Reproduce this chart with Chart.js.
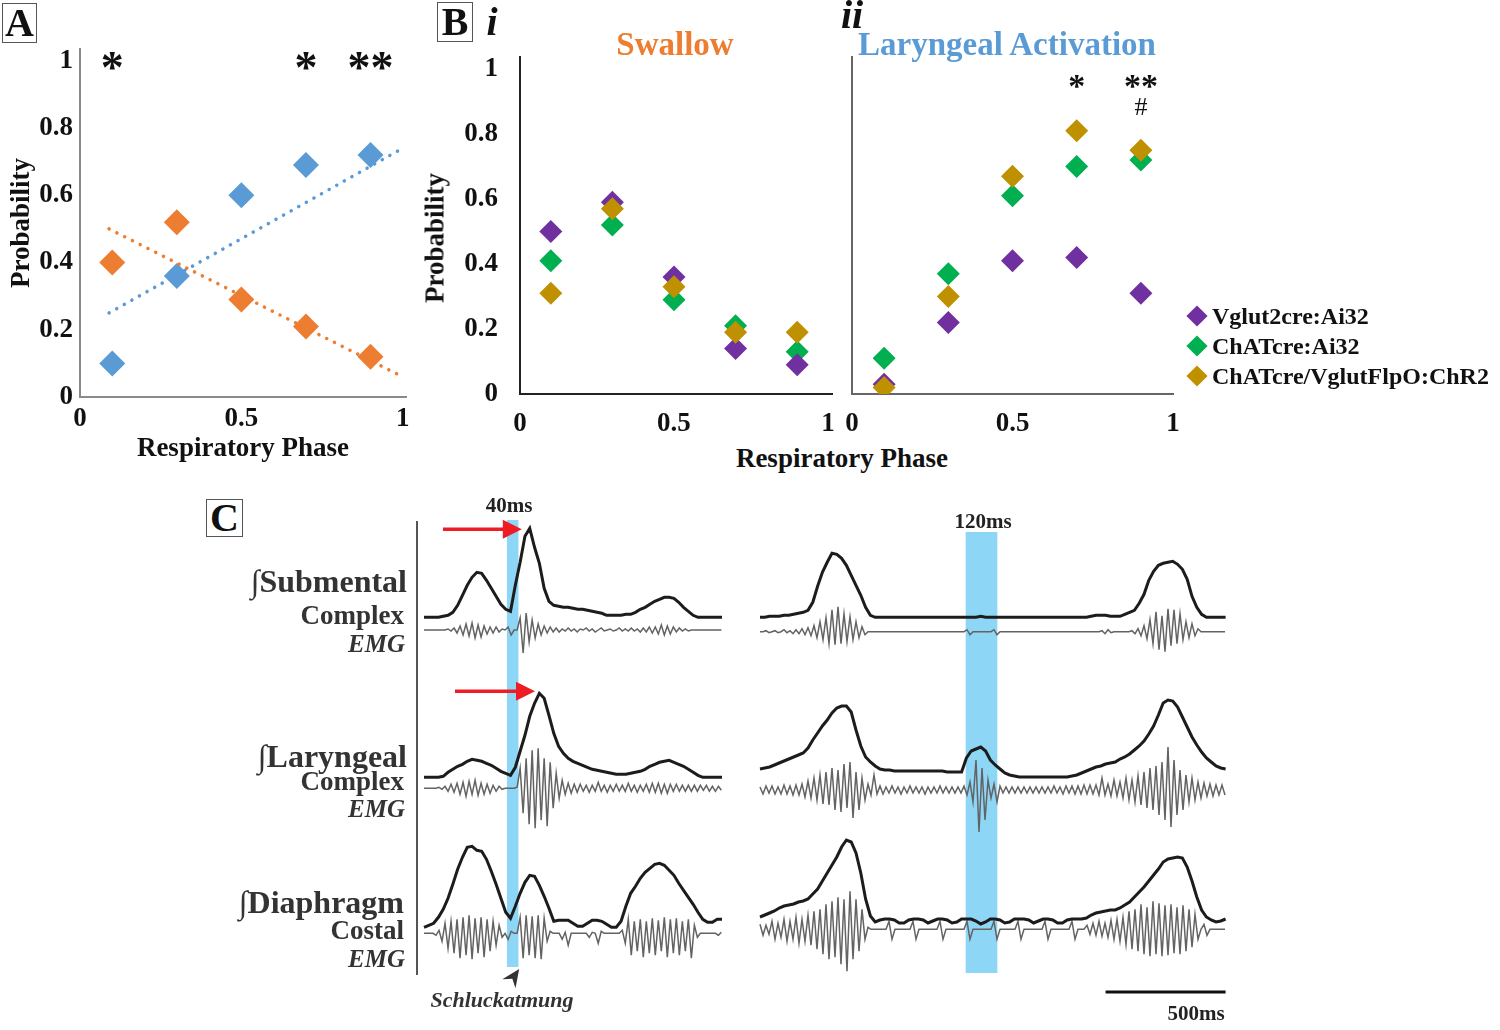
<!DOCTYPE html>
<html><head><meta charset="utf-8">
<script src="https://cdn.jsdelivr.net/npm/chart.js@4.4.1/dist/chart.umd.min.js"></script>
<style>
html,body{margin:0;padding:0;background:#fff;}
#root{position:relative;width:1500px;height:1030px;overflow:hidden;font-family:"Liberation Serif","Times New Roman",serif;background:#fff;}
canvas{position:absolute;}
.t{position:absolute;white-space:nowrap;line-height:1;font-weight:bold;color:#111;}
.t .int{font-weight:normal;}
.box{position:absolute;border:1px solid #555;box-sizing:border-box;text-align:center;font-weight:bold;color:#111;background:#fff;}
.dia{position:absolute;width:15px;height:15px;transform:translate(-50%,-50%) rotate(45deg);}
.vline{position:absolute;background:#555;}
</style></head><body><div id="root">
<canvas id="cA" width="420" height="470" style="left:0px;top:0px"></canvas>
<canvas id="cBi" width="440" height="440" style="left:415px;top:0px"></canvas>
<canvas id="cBii" width="365" height="440" style="left:830px;top:0px"></canvas>
<canvas id="cL" width="340" height="525" style="left:400px;top:495px"></canvas>
<canvas id="cR" width="500" height="525" style="left:740px;top:495px"></canvas>
</div>
<script>
// ---------------- DATA ----------------
const phase = [0.1, 0.3, 0.5, 0.7, 0.9];
const probTicks = [0, 0.2, 0.4, 0.6, 0.8, 1];
const phaseTicks = [0, 0.5, 1];

// Panel A
const aLaryngeal = [0.10, 0.36, 0.60, 0.69, 0.72];
const aSwallow   = [0.40, 0.52, 0.29, 0.21, 0.12];
const trendX = [0.09, 1.0];
const aLaryngealTrend = [0.25, 0.74];
const aSwallowTrend   = [0.50, 0.06];
const sigAX = [0.1, 0.7, 0.9];
const sigAText = ['*', '*', '**'];

// Panel B i (Swallow)
const bSwVglut = [0.50, 0.59, 0.36, 0.14, 0.09];
const bSwChat  = [0.41, 0.52, 0.29, 0.21, 0.13];
const bSwDual  = [0.31, 0.57, 0.33, 0.19, 0.19];
// Panel B ii (Laryngeal activation)
const bLaVglut = [0.03, 0.22, 0.41, 0.42, 0.31];
const bLaChat  = [0.11, 0.37, 0.61, 0.70, 0.72];
const bLaDual  = [0.02, 0.30, 0.67, 0.81, 0.75];
const sigBX = [0.7, 0.9, 0.9];
const sigBText = ['*', '**', '#'];
const legendLabels = ['Vglut2cre:Ai32', 'ChATcre:Ai32', 'ChATcre/VglutFlpO:ChR2'];

// Panel C traces (integrated: 20 ms samples; raw EMG: 12.5 ms samples, arbitrary units)
const INT_DT = 20, RAW_DT = 12.5;
const leftSubInt = [0,0,0,0,1,2,5,12,22,32, 40,45,44,37,29,21,13,8,6,32, 55,81,89,70,54,29,16,12,11,10, 10,9,8,8,7,6,5,4,2,2, 2,2,3,3,5,8,10,13,16,18, 20,20,19,15,10,6,2,0,0,0, 0,0,0];
const leftSubRaw = [0,0,0,0,0,0,0,0,1,-1, 2,-3,4,-5,6,-6,7,-8,5,-7, 4,-4,3,-3,3,-2,1,0,3,-5, 0,0,12,-23,17,-12,10,-8,6,-5, 4,-3,3,-2,2,-2,1,-1,2,-1, 1,-2,1,0,2,-1,1,-2,0,2, -1,0,1,-1,0,2,-1,1,-1,2, -1,1,-2,2,-2,3,-3,3,-4,5, -5,4,-4,3,-2,2,-1,1,-1,0, 0,0,0,0,0,0,0,0,0,0];
const leftLarInt = [0,0,0,0,1,5,8,11,13,16, 18,17,16,14,12,9,6,4,2,10, 26,42,61,74,84,79,62,44,31,24, 19,16,14,12,10,8,7,6,5,4, 3,3,3,4,5,6,8,11,13,15, 16,17,15,13,11,8,5,2,0,0, 0,0,0];
const leftLarRaw = [0,0,0,0,0,1,-1,2,-3,4, -4,5,-6,6,-8,7,-6,8,-7,5, -6,4,-5,3,-3,2,-1,0,0,0, 0,1,20,-25,30,-36,38,-40,40,-32, 30,-38,26,-20,15,-10,8,-6,5,-5, 4,-4,4,-3,3,-4,3,-3,6,-3, 3,-4,3,-3,4,-3,3,-3,5,-3, 3,-4,3,-3,4,-4,5,-4,5,-5, 4,-5,4,-3,4,-3,3,-3,3,-3, 3,-3,3,-2,3,-3,2,-3,2,-2];
const leftDiaInt = [0,2,4,10,18,29,43,58,70,80, 81,77,76,68,56,43,29,15,9,21, 34,45,52,51,42,31,19,6,7,7, 7,4,1,1,4,7,7,6,3,0, 0,6,21,34,41,49,55,59,63,64, 62,57,52,44,37,30,23,15,8,5, 5,8,8];
const leftDiaRaw = [0,0,0,0,-2,3,-8,10,-15,12, -20,14,-25,16,-22,18,-26,15,-20,16, -24,14,-18,12,-12,8,-4,0,-6,2, 0,0,16,-25,18,-22,17,-25,18,-26, 15,-8,2,0,0,0,-6,1,-12,0, 0,0,0,0,0,-4,1,0,-10,2, 0,0,0,0,0,0,3,-10,14,-22, 12,-18,14,-24,12,-20,15,-22,13,-18, 16,-24,14,-20,15,-22,12,-18,14,-25, 8,-4,0,0,0,0,0,0,-2,1];

const rightSubInt = [0,0,1,1,1,2,2,3,4,5, 7,15,31,45,55,64,63,59,52,42, 32,22,10,2,0,0,0,0,0,0, 0,0,0,0,0,0,0,0,0,0, 0,0,0,0,0,0,1,0,0,0, 0,0,0,0,0,0,0,0,0,0, 0,0,0,0,0,0,0,0,0,1, 2,2,2,1,1,1,3,5,7,14, 23,37,46,52,54,55,56,53,48,38, 21,10,3,0,0,0,0,0];
const rightSubRaw = [0,0,1,-1,0,1,-1,0,2,-1, 1,-2,2,-2,3,-3,4,-4,6,-6, 10,-8,14,-12,22,-13,25,-12,18,-10, 15,-8,10,-6,5,-3,0,0,0,0, 0,0,0,0,0,0,0,0,0,0, 0,0,0,0,0,0,0,0,0,0, 0,0,0,0,0,0,0,0,0,2, -3,0,0,0,0,0,0,0,2,-3, 0,0,0,0,0,0,0,0,0,0, 0,0,0,0,0,0,0,0,0,0, 0,0,0,0,0,0,0,0,0,0, 0,0,0,0,1,-2,2,-1,0,0, 0,0,0,0,1,-2,3,-4,6,-7, 12,-12,20,-18,16,-20,23,-14,22,-12, 18,-8,10,-6,8,-4,3,0,0,0, 0,0,0,0,0,0];
const rightLarInt = [8,9,10,12,14,16,18,20,22,24, 29,37,44,51,57,64,69,71,71,65, 47,31,20,15,11,8,7,7,6,6, 6,6,6,6,6,6,6,6,6,5, 5,5,5,19,26,28,30,26,17,12, 8,4,2,1,0,0,0,0,0,0, 0,0,0,0,0,1,2,4,6,8, 10,11,13,14,15,18,20,23,27,31, 36,43,51,62,74,77,76,70,60,50, 40,32,25,19,15,11,9,8];
const rightLarRaw = [3,-4,4,-3,4,-4,3,-4,5,-4, 4,-5,5,-5,6,-7,9,-8,12,-10, 15,-14,18,-15,22,-20,20,-22,26,-18, 28,-28,18,-20,12,-10,6,-5,15,-4, 4,-4,3,-3,4,-3,3,-4,3,-3, 4,-3,3,-3,3,-4,3,-3,3,-3, 4,-3,3,-3,3,-3,3,-3,4,-5, 8,-12,30,-42,22,-30,10,-8,6,-12, 4,-3,3,-3,3,-3,3,-3,3,-3, 3,-3,3,-3,3,-3,3,-3,4,-3, 3,-4,4,-3,4,-4,4,-4,5,-4, 5,-4,5,-5,12,-5,6,-6,10,-6, 8,-8,12,-10,10,-12,14,-15,18,-18, 22,-20,24,-25,28,-30,43,-37,30,-25, 20,-20,15,-12,12,-10,8,-8,7,-6, 6,-6,5,-5,5,-5];
const rightDiaInt = [10,12,14,16,19,21,22,23,25,26, 28,33,38,46,54,62,70,80,87,85, 74,54,28,11,5,7,8,8,7,4, 4,7,8,8,7,4,6,8,8,7, 4,5,8,8,8,6,3,5,8,8, 7,4,5,8,8,8,7,4,6,8, 8,7,4,4,7,8,8,8,9,12, 14,15,16,17,17,19,22,25,30,35, 40,46,52,58,65,68,69,70,69,60, 46,30,17,10,7,5,6,8];
const rightDiaRaw = [5,-6,4,-5,8,-10,6,-8,10,-12, 8,-10,12,-14,10,-12,14,-16,18,-20, 20,-25,25,-30,28,-28,32,-35,30,-42, 38,-30,30,-22,20,-10,2,0,0,0, 0,0,0,8,-10,0,0,0,0,0, 0,8,-10,0,0,0,0,0,0,0, 8,-10,0,0,0,0,0,0,0,8, -10,0,0,0,0,0,0,0,8,-10, 0,0,0,0,0,0,8,-10,0,0, 0,0,0,0,0,8,-10,0,0,0, 0,0,0,0,8,-10,0,0,0,4, -5,6,-6,8,-7,6,-8,9,-10,10, -12,12,-15,18,-20,20,-22,25,-25,22, -27,28,-25,26,-27,24,-26,25,-24,22, -25,24,-22,20,-18,15,-10,0,5,-6, 0,0,0,0,0,0];

// stimulus windows / annotations (ms)
const leftBand = [345, 393];
const rightBand = [857, 989];
const scaleBarMs = [1440, 1940];

// ---------------- STYLE ----------------
const ORANGE='#ED7D31', BLUE='#5B9BD5', PURPLE='#7030A0', GREEN='#00B050', GOLD='#BF9000';
const BAND='#8ED6F6', RED='#EE1C25';
const FAM='"Liberation Serif","Times New Roman",serif';
const tickFont={family:FAM,size:27,weight:'bold'};
const titleFont={family:FAM,size:27,weight:'bold'};
const root=document.getElementById('root');
const fmt=v=>String(v);

function label(txt,x,y,o={}){
  const d=document.createElement('div'); d.className='t';
  if(o.integral){ const s=document.createElement('span'); s.className='int'; s.textContent='\u222B'; d.appendChild(s); d.appendChild(document.createTextNode(txt)); }
  else d.textContent=txt;
  d.style.fontSize=(o.size||24)+'px';
  if(o.italic) d.style.fontStyle='italic';
  if(o.normal) d.style.fontWeight='normal';
  d.style.color=o.color||'#111';
  const ax=o.align==='left'?'0':o.align==='right'?'-100%':'-50%';
  d.style.left=x+'px'; d.style.top=y+'px';
  d.style.transform='translate('+ax+',-50%)'+(o.rotate?' rotate('+o.rotate+'deg)':'');
  root.appendChild(d);
}
function box(txt,l,t,w,h,size){
  const d=document.createElement('div'); d.className='box'; d.textContent=txt;
  Object.assign(d.style,{left:l+'px',top:t+'px',width:w+'px',height:h+'px',fontSize:size+'px',lineHeight:(h-2)+'px'});
  root.appendChild(d);
}
function pts(xs,ys){return xs.map((x,i)=>({x:x,y:ys[i]}));}
function fixedTicks(vals){return s=>{s.ticks=vals.map(v=>({value:v}));};}
function series(arr,dt){return arr.map((v,i)=>({x:i*dt,y:v}));}

const annotPlugin={
  id:'annot',
  afterDatasetsDraw(chart,args,o){
    if(!o||!o.items)return;
    const ctx=chart.ctx,xs=chart.scales.x,ys=chart.scales.y;
    ctx.save(); ctx.fillStyle='#111'; ctx.textAlign='center'; ctx.textBaseline='alphabetic';
    for(const it of o.items){
      ctx.font=it.font;
      const m=ctx.measureText(it.text);
      const cy=ys.getPixelForValue(it.y);
      ctx.fillText(it.text,xs.getPixelForValue(it.x),cy+(m.actualBoundingBoxAscent-m.actualBoundingBoxDescent)/2);
    }
    ctx.restore();
  }
};

const scatterCommon=(extra)=>Object.assign({responsive:false,animation:false,events:[]},extra);
const diamond=(xs,ys,c,r)=>({data:pts(xs,ys),pointStyle:'rectRot',pointRadius:r,backgroundColor:c,borderColor:c,pointBorderWidth:0});
const trend=(xs,ys,c)=>({data:pts(xs,ys),showLine:true,borderColor:c,borderWidth:3.5,borderDash:[0.1,8.6],borderCapStyle:'round',pointRadius:0});

// ---------------- PANEL A ----------------
new Chart(document.getElementById('cA'),{
  type:'scatter',
  data:{datasets:[
    trend(trendX,aSwallowTrend,ORANGE),
    trend(trendX,aLaryngealTrend,BLUE),
    diamond(phase,aSwallow,ORANGE,13),
    diamond(phase,aLaryngeal,BLUE,13)
  ]},
  options:scatterCommon({
    layout:{padding:{top:49,right:14,bottom:0,left:0}},
    plugins:{legend:{display:false},tooltip:{enabled:false},
      annot:{items:sigAX.map((x,i)=>({x:x,y:1.0,text:sigAText[i],font:'bold 46px '+FAM}))}},
    scales:{
      x:{type:'linear',min:0,max:1.01,afterBuildTicks:fixedTicks(phaseTicks),afterFit:s=>{s.height=73;},
         grid:{display:false,drawTicks:false},border:{display:true,color:'#8a8a8a',width:2},
         ticks:{font:tickFont,color:'#111',padding:6,maxRotation:0,autoSkip:false,callback:fmt},
         title:{display:true,text:'Respiratory Phase',font:titleFont,color:'#111',padding:{top:0,bottom:5}}},
      y:{type:'linear',min:0,max:1.035,afterBuildTicks:fixedTicks(probTicks),afterFit:s=>{s.width=80;},
         grid:{display:false,drawTicks:false},border:{display:true,color:'#8a8a8a',width:2},
         ticks:{font:tickFont,color:'#111',padding:7,autoSkip:false,callback:fmt},
         title:{display:true,text:'Probability',font:titleFont,color:'#111',padding:{top:6,bottom:4}}}
    }
  }),
  plugins:[annotPlugin]
});

// ---------------- PANEL B i ----------------
new Chart(document.getElementById('cBi'),{
  type:'scatter',
  data:{datasets:[
    diamond(phase,bSwDual,GOLD,11.5),
    diamond(phase,bSwVglut,PURPLE,11.5),
    diamond(phase,bSwChat,GREEN,11.5)
  ]},
  options:scatterCommon({
    layout:{padding:{top:57,right:22.4,bottom:0,left:0}},
    plugins:{legend:{display:false},tooltip:{enabled:false}},
    scales:{
      x:{type:'linear',min:0,max:1.015,afterBuildTicks:fixedTicks(phaseTicks),afterFit:s=>{s.height=46;},
         grid:{display:false,drawTicks:false},border:{display:true,color:'#222',width:2},
         ticks:{font:tickFont,color:'#111',padding:14,maxRotation:0,autoSkip:false,callback:fmt}},
      y:{type:'linear',min:0,max:1.037,afterBuildTicks:fixedTicks(probTicks),afterFit:s=>{s.width=105;},
         grid:{display:false,drawTicks:false},border:{display:true,color:'#222',width:2},
         ticks:{font:tickFont,color:'#111',padding:22,autoSkip:false,callback:fmt}}
    }
  })
});

// ---------------- PANEL B ii ----------------
new Chart(document.getElementById('cBii'),{
  type:'scatter',
  data:{datasets:[
    diamond(phase,bLaDual,GOLD,11.5),
    diamond(phase,bLaVglut,PURPLE,11.5),
    diamond(phase,bLaChat,GREEN,11.5)
  ]},
  options:scatterCommon({
    layout:{padding:{top:57,right:22,bottom:0,left:0}},
    plugins:{legend:{display:false},tooltip:{enabled:false},
      annot:{items:sigBX.map((x,i)=>({x:x,y:sigBText[i]==='#'?0.886:0.961,text:sigBText[i],
        font:sigBText[i]==='#'?('26px '+FAM):('bold 34px '+FAM)}))}},
    scales:{
      x:{type:'linear',min:0,max:1.0,afterBuildTicks:fixedTicks(phaseTicks),afterFit:s=>{s.height=46;},
         grid:{display:false,drawTicks:false},border:{display:true,color:'#666',width:2},
         ticks:{font:tickFont,color:'#111',padding:14,maxRotation:0,autoSkip:false,callback:fmt}},
      y:{type:'linear',min:0,max:1.037,afterBuildTicks:fixedTicks(probTicks),afterFit:s=>{s.width=22;},
         grid:{display:false,drawTicks:false},border:{display:true,color:'#666',width:2},
         ticks:{display:false}}
    }
  }),
  plugins:[annotPlugin]
});

// ---------------- PANEL C ----------------
const C_TOP=495, C_BOT=1020;
function chanAxis(basePx){return {type:'linear',axis:'y',position:'left',display:false,min:basePx-C_BOT,max:basePx-C_TOP};}
const intStyle={borderColor:'#1c1c1c',borderWidth:3,pointRadius:0,tension:0,clip:false};
const rawStyle={borderColor:'#636363',borderWidth:1.5,pointRadius:0,tension:0,clip:false};
function ds(arr,dt,axis,style){return Object.assign({data:series(arr,dt),yAxisID:axis},style);}

const decoPlugin={
  id:'deco',
  beforeDatasetsDraw(chart,args,o){
    const ctx=chart.ctx,x=chart.scales.x;
    const x0=x.getPixelForValue(o.band[0]),x1=x.getPixelForValue(o.band[1]);
    ctx.save(); ctx.fillStyle=BAND;
    ctx.fillRect(x0,o.bandTop-C_TOP,x1-x0,o.bandBottom-o.bandTop);
    ctx.restore();
  },
  afterDatasetsDraw(chart,args,o){
    const ctx=chart.ctx,x=chart.scales.x;
    ctx.save();
    (o.arrows||[]).forEach(a=>{
      const y=chart.scales[a.axis].getPixelForValue(a.level);
      const xa=x.getPixelForValue(a.from),xb=x.getPixelForValue(a.to);
      const hl=19,hw=9.5;
      ctx.strokeStyle=RED; ctx.fillStyle=RED; ctx.lineWidth=3.5;
      ctx.beginPath(); ctx.moveTo(xa,y); ctx.lineTo(xb-hl+1,y); ctx.stroke();
      ctx.beginPath(); ctx.moveTo(xb,y); ctx.lineTo(xb-hl,y-hw); ctx.lineTo(xb-hl,y+hw); ctx.closePath(); ctx.fill();
    });
    if(o.pointer){
      const p=o.pointer;
      const tx=x.getPixelForValue(p.tip[0]),ty=p.tip[1]-C_TOP;
      const sx=x.getPixelForValue(p.tail[0]),sy=p.tail[1]-C_TOP;
      const dx=tx-sx,dy=ty-sy,L=Math.hypot(dx,dy),ux=dx/L,uy=dy/L,nx=-uy,ny=ux;
      const hl=18,hw=8,notch=6;
      ctx.fillStyle='#333';
      ctx.beginPath();
      ctx.moveTo(tx,ty);
      ctx.lineTo(tx-ux*hl+nx*hw,ty-uy*hl+ny*hw);
      ctx.lineTo(tx-ux*(hl-notch),ty-uy*(hl-notch));
      ctx.lineTo(tx-ux*hl-nx*hw,ty-uy*hl-ny*hw);
      ctx.closePath(); ctx.fill();
    }
    if(o.scaleBar){
      const y=o.scaleBar.y-C_TOP;
      ctx.strokeStyle='#111'; ctx.lineWidth=3;
      ctx.beginPath(); ctx.moveTo(x.getPixelForValue(o.scaleBar.ms[0]),y); ctx.lineTo(x.getPixelForValue(o.scaleBar.ms[1]),y); ctx.stroke();
    }
    ctx.restore();
  }
};

new Chart(document.getElementById('cL'),{
  type:'line',
  data:{datasets:[
    ds(leftSubInt,INT_DT,'yInt1',intStyle), ds(leftLarInt,INT_DT,'yInt2',intStyle), ds(leftDiaInt,INT_DT,'yInt3',intStyle),
    ds(leftSubRaw,RAW_DT,'yRaw1',rawStyle), ds(leftLarRaw,RAW_DT,'yRaw2',rawStyle), ds(leftDiaRaw,RAW_DT,'yRaw3',rawStyle)
  ]},
  options:{responsive:false,animation:false,events:[],
    layout:{padding:{left:24,right:18,top:0,bottom:0}},
    plugins:{legend:{display:false},tooltip:{enabled:false},
      deco:{band:leftBand,bandTop:520,bandBottom:967,
        arrows:[{from:79,to:407,axis:'yInt1',level:88},{from:129,to:462,axis:'yInt2',level:86}],
        pointer:{tip:[396,969],tail:[350,985]}}},
    scales:{x:{type:'linear',axis:'x',display:false,min:0,max:1240},
      yInt1:chanAxis(617.3),yRaw1:chanAxis(630),yInt2:chanAxis(777.3),yRaw2:chanAxis(788.3),yInt3:chanAxis(927.3),yRaw3:chanAxis(933.3)}
  },
  plugins:[decoPlugin]
});

new Chart(document.getElementById('cR'),{
  type:'line',
  data:{datasets:[
    ds(rightSubInt,INT_DT,'yInt1',intStyle), ds(rightLarInt,INT_DT,'yInt2',intStyle), ds(rightDiaInt,INT_DT,'yInt3',intStyle),
    ds(rightSubRaw,RAW_DT,'yRaw1',rawStyle), ds(rightLarRaw,RAW_DT,'yRaw2',rawStyle), ds(rightDiaRaw,RAW_DT,'yRaw3',rawStyle)
  ]},
  options:{responsive:false,animation:false,events:[],
    layout:{padding:{left:20,right:12,top:0,bottom:0}},
    plugins:{legend:{display:false},tooltip:{enabled:false},
      deco:{band:rightBand,bandTop:532,bandBottom:973,scaleBar:{ms:scaleBarMs,y:992}}},
    scales:{x:{type:'linear',axis:'x',display:false,min:0,max:1950},
      yInt1:chanAxis(617.3),yRaw1:chanAxis(631.7),yInt2:chanAxis(777),yRaw2:chanAxis(790),yInt3:chanAxis(927),yRaw3:chanAxis(929.3)}
  },
  plugins:[decoPlugin]
});

// ---------------- TEXT ----------------
box('A',2,3,35,40,40);
box('B',437,2,36,40,40);
box('C',206,499,37,38,40);
label('i',492,22,{size:40,italic:true});
label('ii',852,15,{size:40,italic:true});
label('Swallow',675,44,{size:33,color:ORANGE});
label('Laryngeal Activation',858,44,{size:33,color:BLUE,align:'left'});
label('Probability',435,238,{size:27,rotate:-90});
label('Respiratory Phase',842,458,{size:27});
[PURPLE,GREEN,GOLD].forEach((c,i)=>{
  const y=316+30*i;
  const d=document.createElement('div'); d.className='dia';
  d.style.left='1197px'; d.style.top=y+'px'; d.style.background=c; root.appendChild(d);
  label(legendLabels[i],1212,y,{size:24,align:'left'});
});
const CG='#333';
label('Submental',407,581,{size:32,align:'right',color:CG,integral:true});
label('Complex',404,615,{size:27,align:'right',color:CG});
label('EMG',405,643,{size:25,italic:true,align:'right',color:CG});
label('Laryngeal',407,756,{size:32,align:'right',color:CG,integral:true});
label('Complex',404,781,{size:27,align:'right',color:CG});
label('EMG',405,808,{size:25,italic:true,align:'right',color:CG});
label('Diaphragm',404,902,{size:32,align:'right',color:CG,integral:true});
label('Costal',404,930,{size:27,align:'right',color:CG});
label('EMG',405,958,{size:25,italic:true,align:'right',color:CG});
label('40ms',509,505,{size:21,color:'#222'});
label('120ms',983,521,{size:21,color:'#222'});
label('500ms',1196,1013,{size:21,color:'#222'});
label('Schluckatmung',502,1000,{size:22,italic:true,color:'#333'});
const vl=document.createElement('div'); vl.className='vline';
Object.assign(vl.style,{left:'416px',top:'521px',width:'2px',height:'454px'}); root.appendChild(vl);
</script></body></html>
